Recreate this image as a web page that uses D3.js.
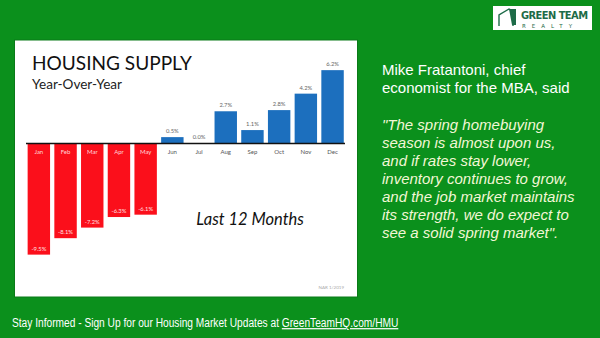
<!DOCTYPE html>
<html><head><meta charset="utf-8">
<script src="https://cdn.jsdelivr.net/npm/d3@7"></script>
<style>html,body{margin:0;padding:0;background:#0b901c;}svg{display:block;}</style>
</head><body>
<script>
const months = ["Jan","Feb","Mar","Apr","May","Jun","Jul","Aug","Sep","Oct","Nov","Dec"];
const values = [-9.5,-8.1,-7.2,-6.3,-6.1,0.5,0.0,2.7,1.1,2.8,4.2,6.2];
const valueLabels = ["-9.5%","-8.1%","-7.2%","-6.3%","-6.1%","0.5%","0.0%","2.7%","1.1%","2.8%","4.2%","6.2%"];
const quoteLines = ["\"The spring homebuying","season is almost upon us,","and if rates stay lower,","inventory continues to grow,","and the job market maintains","its strength, we do expect to","see a solid spring market\"."];
const introLines = ["Mike Fratantoni, chief","economist for the MBA, said"];

const W=600,H=338;
const svg=d3.select("body").append("svg").attr("width",W).attr("height",H);
svg.append("rect").attr("width",W).attr("height",H).attr("fill","#0b901c");

// panel
svg.append("rect").attr("x",14).attr("y",39.5).attr("width",344).attr("height",258).attr("fill","#0a7a18");
svg.append("rect").attr("x",15).attr("y",40.5).attr("width",342).attr("height",256).attr("fill","#ffffff");

svg.append("text").attr("x",32).attr("y",69.5).attr("font-family","Lato, 'Open Sans', sans-serif")
  .attr("font-size",20).attr("fill","#111").attr("textLength",160).attr("lengthAdjust","spacingAndGlyphs").text("HOUSING SUPPLY");
svg.append("text").attr("x",32).attr("y",89).attr("font-family","Lato, 'Open Sans', sans-serif")
  .attr("font-size",13).attr("fill","#222").attr("textLength",90).attr("lengthAdjust","spacingAndGlyphs").text("Year-Over-Year");

const x=d3.scaleBand().domain(months).range([25.5,345.9]).paddingInner(0.16).paddingOuter(0.08);
const y=d3.scaleLinear().domain([-10,7]).range([260.5,60.75]);

const g=svg.append("g");
g.selectAll("rect.bar").data(months).join("rect").attr("class","bar")
  .attr("x",d=>x(d)).attr("width",x.bandwidth())
  .attr("y",(d,i)=>Math.min(y(values[i]),y(0)))
  .attr("height",(d,i)=>Math.abs(y(values[i])-y(0)))
  .attr("fill",(d,i)=>values[i]<0?"#fb0f1b":"#1c6fbe");

// axis
const axis=d3.axisBottom(x).tickSize(0).tickPadding(7);
const ax=svg.append("g").attr("transform",`translate(0,${y(0)})`).call(axis);
ax.select(".domain").attr("d",`M26,0.5H345`).attr("stroke","#111").attr("stroke-width",1.6);
ax.selectAll(".tick text").attr("font-family","Lato, 'Open Sans', sans-serif").attr("font-size",6)
  .attr("fill",(d,i)=>values[i]<0?"#ffd8d8":"#555");

// value labels
g.selectAll("text.val").data(months).join("text").attr("class","val")
  .attr("x",d=>x(d)+x.bandwidth()/2)
  .attr("y",(d,i)=>y(values[i])-4)
  .attr("text-anchor","middle").attr("font-family","Lato, 'Open Sans', sans-serif").attr("font-size",5.8)
  .attr("fill",(d,i)=>values[i]<0?"#ffe0e0":"#666")
  .text((d,i)=>valueLabels[i]);

svg.append("text").attr("x",250).attr("y",225).attr("text-anchor","middle")
  .attr("font-family","Lato, 'Open Sans', sans-serif").attr("font-style","italic")
  .attr("font-size",16.5).attr("fill","#111").text("Last 12 Months");
svg.append("text").attr("x",344).attr("y",289).attr("text-anchor","end")
  .attr("font-family","Lato, sans-serif").attr("font-size",4.5).attr("fill","#aaa").text("NAR 1/2019");

// right text
const rt=svg.append("g").attr("font-family","'Liberation Sans', Arial, sans-serif").attr("font-size",15);
introLines.forEach((t,i)=>rt.append("text").attr("x",382).attr("y",75+i*18).attr("fill","#ffffff").text(t));
quoteLines.forEach((t,i)=>rt.append("text").attr("x",382).attr("y",130+i*18)
  .attr("font-style","italic").attr("fill","#f3f7d6").text(t));

// logo
const lg=svg.append("g");
lg.append("rect").attr("x",493).attr("y",6).attr("width",99).attr("height",24).attr("fill","#fff");
lg.append("path").attr("d","M499,26 V15 L509,9 L513,11 V26").attr("fill","none").attr("stroke","#1d6b48").attr("stroke-width",1.4);
lg.append("path").attr("d","M509,9 L516,9 L516,25 L512,25 Z").attr("fill","#1d6b48");
lg.append("text").attr("x",521).attr("y",19).attr("font-family","'DejaVu Sans Condensed', 'DejaVu Sans', sans-serif")
  .attr("font-weight","bold").attr("font-size",11).attr("fill","#1d6b48").attr("textLength",67).text("GREEN TEAM");
lg.append("text").attr("x",522).attr("y",27.5).attr("font-family","'DejaVu Sans', sans-serif")
  .attr("font-size",5.5).attr("fill","#1d6b48").attr("letter-spacing",6).text("REALTY");

// footer
const ft=svg.append("text").attr("transform","translate(12,327) scale(0.815,1)")
  .attr("font-family","'Liberation Sans', Arial, sans-serif").attr("font-size",12.5).attr("fill","#fff");
ft.append("tspan").text("Stay Informed - Sign Up for our Housing Market Updates at ");
ft.append("tspan").attr("text-decoration","underline").text("GreenTeamHQ.com/HMU");
</script>
</body></html>
